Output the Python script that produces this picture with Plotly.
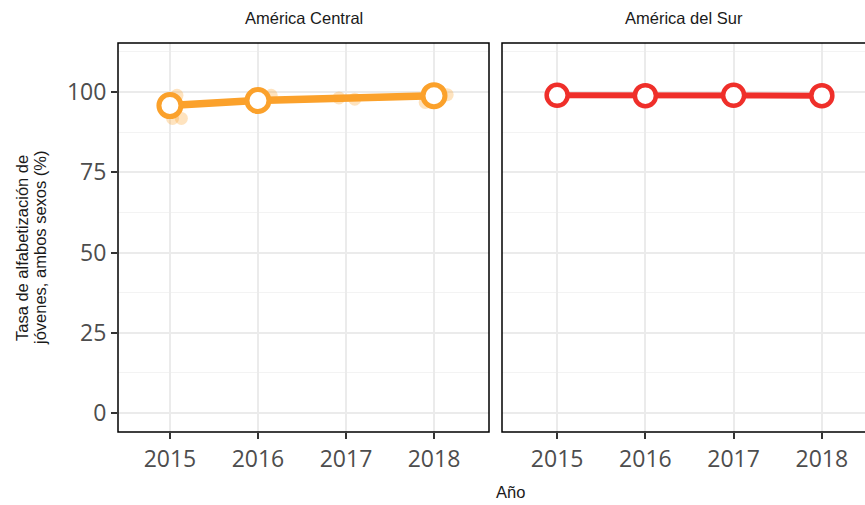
import plotly.graph_objects as go

# ---- data ----
years = [2015, 2016, 2017, 2018]
central_years_mean = [2015, 2016, 2018]
central_mean = [95.8, 97.4, 98.9]
south_mean = [99.0, 98.9, 99.0, 98.9]
# individual country values (jittered years)
central_pts_x = [2015.08, 2015.03, 2015.13, 2015.95, 2016.15, 2016.92, 2017.1, 2017.9, 2018.15]
central_pts_y = [99.0, 91.8, 91.8, 96.6, 99.0, 98.2, 97.8, 96.8, 99.2]
yticks = [0, 25, 50, 75, 100]
yminor = [12.5, 37.5, 62.5, 87.5, 112.5]
panel_titles = ["América Central", "América del Sur"]
ytitle_lines = ["Tasa de alfabetización de", "jóvenes, ambos sexos (%)"]

ORANGE = "#FBA12B"
RED = "#EF2F2A"

W, H = 865, 505
L, R, T, B = 118, 0, 43, 73
pw = W - L - R
ph = H - T - B

fig = go.Figure()
fig.add_trace(go.Scatter(x=central_pts_x, y=central_pts_y, mode="markers",
                         marker=dict(size=13, color=ORANGE, opacity=0.3, line=dict(width=0)),
                         xaxis="x", yaxis="y", hoverinfo="skip"))
fig.add_trace(go.Scatter(x=central_years_mean, y=central_mean, mode="lines+markers",
                         line=dict(color=ORANGE, width=7.5),
                         marker=dict(size=22, color="white", line=dict(color=ORANGE, width=5)),
                         xaxis="x", yaxis="y"))
fig.add_trace(go.Scatter(x=years, y=south_mean, mode="lines+markers",
                         line=dict(color=RED, width=6),
                         marker=dict(size=21, color="white", line=dict(color=RED, width=4.5)),
                         xaxis="x2", yaxis="y2"))

tickfont = dict(family="Open Sans", size=23, color="#4D4D4D")
common_x = dict(tickvals=years, ticks="outside", ticklen=6, tickwidth=2, tickcolor="#333333",
                showgrid=True, gridcolor="#EBEBEB", gridwidth=2, zeroline=False,
                showline=False, tickfont=tickfont)
common_y = dict(range=[-5.9, 115.3], tickvals=yticks, showgrid=True, gridcolor="#EBEBEB",
                gridwidth=2, zeroline=False, showline=False,
                minor=dict(tickvals=yminor, showgrid=True, gridcolor="#F3F3F3", gridwidth=1))

x1d = [0, (489 - L) / pw]
x2d = [(502 - L) / pw, 1]

fig.update_layout(
    width=W, height=H, margin=dict(l=L, r=R, t=T, b=B),
    paper_bgcolor="white", plot_bgcolor="white", showlegend=False,
    xaxis=dict(domain=x1d, range=[2014.41, 2018.625], anchor="y", **common_x),
    xaxis2=dict(domain=x2d, range=[2014.375, 2018.489], anchor="y2", **common_x),
    yaxis=dict(domain=[0, 1], anchor="x", ticks="outside", ticklen=6, tickwidth=2,
               tickcolor="#333333", tickfont=tickfont, **common_y),
    yaxis2=dict(domain=[0, 1], anchor="x2", ticks="", showticklabels=False, **common_y),
    shapes=[
        dict(type="rect", xref="x domain", yref="y domain", x0=0, x1=1, y0=0, y1=1,
             line=dict(color="black", width=1.5), layer="above"),
        dict(type="rect", xref="x2 domain", yref="y2 domain", x0=0, x1=1.05, y0=0, y1=1,
             line=dict(color="black", width=1.5), layer="above"),
    ],
)

title_font = dict(family="Liberation Sans", size=16.5, color="#1A1A1A")
for title, d in zip(panel_titles, [x1d, x2d]):
    fig.add_annotation(text=title, xref="paper", yref="paper",
                       x=(d[0] + d[1]) / 2, y=1 + 25 / ph,
                       showarrow=False, font=title_font, xanchor="center", yanchor="middle")
fig.add_annotation(text="Año", xref="paper", yref="paper", x=(510 - L) / pw,
                   y=-(492 - (H - B)) / ph, showarrow=False,
                   font=dict(family="Liberation Sans", size=16.5, color="#1A1A1A"),
                   xanchor="center", yanchor="middle")
for line, xc in zip(ytitle_lines, [22, 40]):
    fig.add_annotation(text=line, xref="paper", yref="paper", x=(xc - L) / pw,
                       y=(H - B - 248) / ph, textangle=-90, showarrow=False,
                       font=dict(family="Liberation Sans", size=16.5, color="#1A1A1A"),
                       xanchor="center", yanchor="middle")

fig.write_html("out.html", config={"displayModeBar": False},
               post_script="document.body.style.margin='0';document.body.style.overflow='hidden';")
